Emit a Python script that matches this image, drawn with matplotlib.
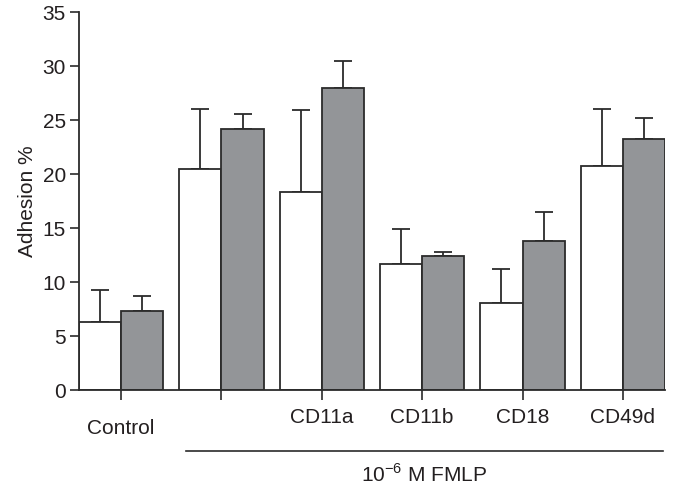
import matplotlib
matplotlib.use("Agg")
import matplotlib.pyplot as plt
import numpy as np

plt.rcParams['font.family'] = ['Liberation Sans', 'DejaVu Sans']

categories = ["Control", "", "CD11a", "CD11b", "CD18", "CD49d"]
white_vals = [6.3, 20.5, 18.3, 11.7, 8.1, 20.7]
white_err = [2.95, 5.5, 7.6, 3.2, 3.1, 5.3]
gray_vals = [7.3, 24.2, 28.0, 12.4, 13.8, 23.2]
gray_err = [1.4, 1.4, 2.5, 0.4, 2.7, 2.0]

fig = plt.figure(figsize=(6.73, 4.87), dpi=100)
ax = fig.add_axes([79/673, 1-390/487, 586/673, 378/487])

x = np.arange(len(categories))
w = 0.42
edge = '#2b2b2b'
txt = '#231f20'
fs = 15
ax.bar(x - w/2, white_vals, w, color='white', edgecolor=edge, linewidth=1.3, zorder=2)
ax.bar(x + w/2, gray_vals, w, color='#939598', edgecolor=edge, linewidth=1.3, zorder=2)
ax.errorbar(x - w/2, white_vals, yerr=[np.zeros(len(x)), white_err], fmt='none',
            ecolor=edge, elinewidth=1.3, capsize=6.5, capthick=1.3, zorder=1)
ax.errorbar(x + w/2, gray_vals, yerr=[np.zeros(len(x)), gray_err], fmt='none',
            ecolor=edge, elinewidth=1.3, capsize=6.5, capthick=1.3, zorder=1)

ax.set_xlim(-w, len(x) - 1 + w)
ax.set_ylim(0, 35)
ax.set_yticks(np.arange(0, 36, 5))
ax.set_xticks(x)
ax.set_xticklabels(categories)
for s in ['top', 'right']:
    ax.spines[s].set_visible(False)
for s in ['left', 'bottom']:
    ax.spines[s].set_linewidth(1.3)
    ax.spines[s].set_color(edge)
ax.tick_params(axis='y', length=6.5, width=1.2, pad=3, labelsize=fs, colors=edge, labelcolor=txt)
ax.tick_params(axis='x', length=7, width=1.2, pad=6, labelsize=fs, colors=edge, labelcolor=txt)
ax.xaxis.get_major_ticks()[0].set_pad(14)
ax.set_ylabel("Adhesion %", fontsize=fs, color=txt, labelpad=4)

fig.add_artist(plt.Line2D([186/673, 663/673], [1-451/487, 1-451/487],
                          color=edge, linewidth=1.2))
fig.text(424/673, 1-475/487, r"10$^{\mathregular{-6}}$ M FMLP", ha='center', va='center',
         fontsize=fs, color=txt)

fig.savefig("out.png", dpi=100)
